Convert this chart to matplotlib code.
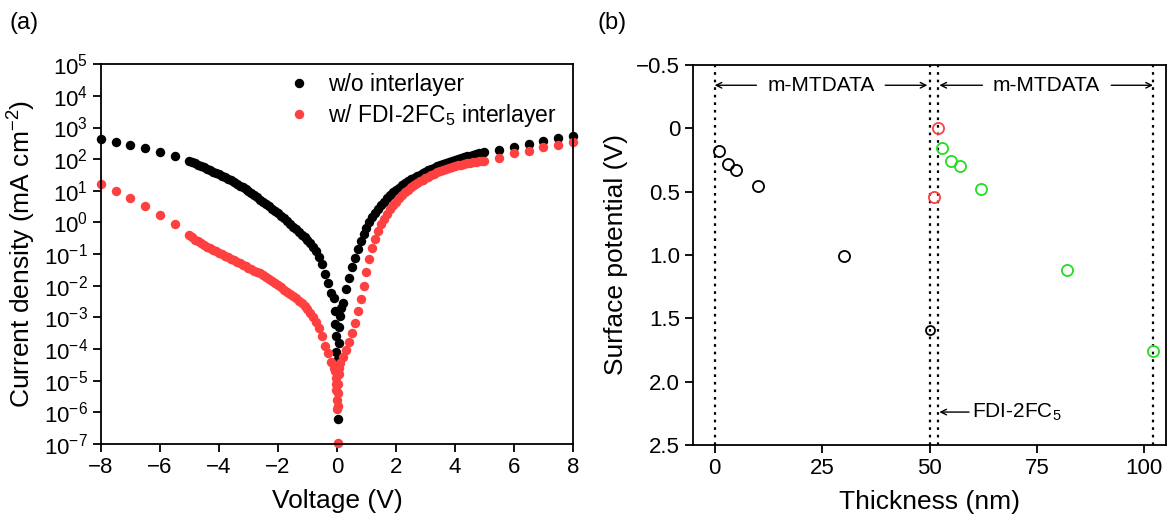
import numpy as np
import matplotlib
matplotlib.use('Agg')
import matplotlib.pyplot as plt

plt.rcParams['font.family'] = ['Liberation Sans', 'DejaVu Sans']
plt.rcParams['mathtext.fontset'] = 'custom'
plt.rcParams['mathtext.rm'] = 'Liberation Sans'
plt.rcParams['mathtext.it'] = 'Liberation Sans:italic'
plt.rcParams['axes.linewidth'] = 1.3

# ---- (a) J-V data, log10(J / mA cm^-2) ----
v_sparse_neg = [-8.0, -7.5, -7.0, -6.5, -6.0, -5.5]
v_sparse_pos = [5.5, 6.0, 6.5, 7.0, 7.5, 8.0]
v_dense_neg = np.linspace(-5.0, -0.1, 50)

black_sparse_neg = [2.63, 2.55, 2.44, 2.34, 2.23, 2.09]
black_dense_neg = [1.95, 1.91, 1.87, 1.83, 1.79, 1.74, 1.70, 1.65, 1.60, 1.56,
                   1.52, 1.47, 1.43, 1.38, 1.33, 1.27, 1.22, 1.16, 1.11, 1.05,
                   0.99, 0.93, 0.86, 0.79, 0.72, 0.65, 0.58, 0.51, 0.44, 0.37,
                   0.29, 0.21, 0.13, 0.05, -0.04, -0.13, -0.22, -0.30, -0.39, -0.47,
                   -0.55, -0.64, -0.76, -0.90, -1.08, -1.32, -1.64, -1.90, -2.22, -2.40]
black_v_zero = [-0.08, -0.06, -0.04, -0.02, 0.0, 0.02, 0.04, 0.06, 0.08, 0.1, 0.15]
black_zero = [-2.8, -3.2, -3.6, -4.1, -4.6, -6.2, -4.3, -3.8, -3.3, -2.95, -2.7]
black_v_pos = np.linspace(0.2, 5.0, 49)
black_dense_pos = [-2.55, -2.10, -1.75, -1.42, -1.12, -0.85, -0.60, -0.38, -0.18,
                   0.00, 0.16, 0.30, 0.43, 0.55, 0.66, 0.76, 0.86, 0.95, 1.03,
                   1.10, 1.17, 1.24, 1.30, 1.36, 1.41, 1.46, 1.51, 1.56, 1.61,
                   1.65, 1.69, 1.73, 1.77, 1.81, 1.85, 1.88, 1.91, 1.94, 1.97,
                   2.00, 2.03, 2.06, 2.09, 2.11, 2.14, 2.16, 2.18, 2.20, 2.22]
black_sparse_pos = [2.29, 2.37, 2.49, 2.58, 2.66, 2.73]

red_sparse_neg = [1.23, 1.00, 0.77, 0.52, 0.23, -0.05]
red_dense_neg = [-0.40, -0.47, -0.54, -0.60, -0.66, -0.71, -0.76, -0.81, -0.86, -0.91,
                 -0.95, -1.00, -1.05, -1.10, -1.15, -1.20, -1.25, -1.29, -1.34, -1.38,
                 -1.43, -1.47, -1.52, -1.57, -1.61, -1.66, -1.72, -1.78, -1.84, -1.91,
                 -1.98, -2.05, -2.12, -2.19, -2.26, -2.33, -2.40, -2.48, -2.56, -2.65,
                 -2.75, -2.86, -2.98, -3.13, -3.33, -3.60, -3.90, -4.12, -4.40, -4.60]
red_v_zero = [-0.06, -0.04, -0.03, -0.02, -0.01, 0.0, 0.02, 0.03, 0.04, 0.05, 0.06, 0.08]
red_zero = [-4.7, -4.9, -5.1, -5.3, -5.6, -5.9, -6.97, -5.8, -5.4, -5.1, -4.8, -4.6]
red_v_pos = np.linspace(0.1, 5.0, 50)
red_dense_pos = [-4.45, -4.25, -4.02, -3.77, -3.50, -3.17, -2.79, -2.42, -2.02, -1.55,
                 -1.15, -0.80, -0.52, -0.28, -0.06, 0.12, 0.27, 0.41, 0.54, 0.66,
                 0.77, 0.87, 0.96, 1.04, 1.11, 1.18, 1.24, 1.30, 1.35, 1.40,
                 1.45, 1.50, 1.54, 1.58, 1.62, 1.66, 1.69, 1.72, 1.75, 1.78,
                 1.81, 1.83, 1.85, 1.87, 1.89, 1.91, 1.92, 1.93, 1.94, 1.95]
red_sparse_pos = [2.05, 2.18, 2.26, 2.37, 2.45, 2.55]

# ---- (b) surface potential data ----
mtdata1_t = [1, 3, 5, 10, 30, 50]
mtdata1_v = [0.18, 0.28, 0.33, 0.455, 1.01, 1.59]
fdi_t = [51, 52]
fdi_v = [0.54, 0.0]
mtdata2_t = [53, 55, 57, 62, 82, 102]
mtdata2_v = [0.157, 0.258, 0.30, 0.476, 1.12, 1.755]
layer_edges = [0, 50, 52, 102]

RED = '#ff4040'
GREEN = '#22dd22'

fig = plt.figure(figsize=(11.67, 5.22), dpi=100)
ax1 = fig.add_axes([0.0865, 0.1494, 0.4045, 0.7276])
ax2 = fig.add_axes([0.594, 0.1475, 0.405, 0.728])

bv = np.concatenate([v_sparse_neg, v_dense_neg, black_v_zero, black_v_pos, v_sparse_pos])
bj = 10 ** np.concatenate([black_sparse_neg, black_dense_neg, black_zero, black_dense_pos, black_sparse_pos])
rv = np.concatenate([v_sparse_neg, v_dense_neg, red_v_zero, red_v_pos, v_sparse_pos])
rj = 10 ** np.concatenate([red_sparse_neg, red_dense_neg, red_zero, red_dense_pos, red_sparse_pos])

ax1.plot(bv, bj, 'o', color='black', ms=6.8, mew=0, label='w/o interlayer', clip_on=False)
ax1.plot(rv, rj, 'o', color=RED, ms=6.8, mew=0, label='w/ FDI-2FC$_5$ interlayer', clip_on=False)
ax1.set_yscale('log')
ax1.set_xlim(-8, 8)
ax1.set_ylim(1e-7, 1e5)
ax1.set_xticks([-8, -6, -4, -2, 0, 2, 4, 6, 8])
ax1.set_yticks([10.0 ** k for k in range(-7, 6)])
ax1.yaxis.set_minor_locator(matplotlib.ticker.NullLocator())
ax1.set_xlabel('Voltage (V)', fontsize=19, labelpad=8)
ax1.set_ylabel('Current density (mA cm$^{-2}$)', fontsize=19, labelpad=4)
ax1.tick_params(direction='out', length=6, width=1.3, labelsize=16)
ax1.legend(loc='upper left', bbox_to_anchor=(0.37, 1.0), frameon=False, fontsize=16.5,
           handletextpad=0.7, handlelength=1.2, labelspacing=0.25, borderaxespad=0)
fig.text(0.008, 0.955, '(a)', fontsize=17, va='center')

for t in layer_edges:
    ax2.axvline(t, color='black', ls=(0, (1.2, 2.2)), lw=1.6)
ax2.plot(mtdata1_t[:-1], mtdata1_v[:-1], 'o', mfc='none', mec='black', ms=8, mew=1.3)
ax2.plot(mtdata1_t[-1:], mtdata1_v[-1:], 'o', mfc='none', mec='black', ms=6.5, mew=1.3)
ax2.plot(fdi_t, fdi_v, 'o', mfc='none', mec=RED, ms=8, mew=1.3)
ax2.plot(mtdata2_t, mtdata2_v, 'o', mfc='none', mec=GREEN, ms=8, mew=1.3, clip_on=False)
ax2.set_xlim(-5, 105)
ax2.set_ylim(2.5, -0.5)
ax2.set_xticks([0, 25, 50, 75, 100])
ax2.set_yticks([-0.5, 0, 0.5, 1.0, 1.5, 2.0, 2.5])
ax2.set_yticklabels(['\u22120.5', '0', '0.5', '1.0', '1.5', '2.0', '2.5'])
ax2.set_xlabel('Thickness (nm)', fontsize=19, labelpad=8)
ax2.set_ylabel('Surface potential (V)', fontsize=19, labelpad=6)
ax2.tick_params(direction='out', length=6, width=1.3, labelsize=16)

arrow = dict(arrowstyle='->', lw=1.0, color='black', shrinkA=0, shrinkB=0)
ya = -0.34
ax2.annotate('', xy=(0, ya), xytext=(9.7, ya), arrowprops=arrow)
ax2.annotate('', xy=(49.5, ya), xytext=(39.7, ya), arrowprops=arrow)
ax2.text(24.9, ya, 'm-MTDATA', fontsize=15, ha='center', va='center')
ax2.annotate('', xy=(52.3, ya), xytext=(62.3, ya), arrowprops=arrow)
ax2.annotate('', xy=(102, ya), xytext=(92.3, ya), arrowprops=arrow)
ax2.text(77.2, ya, 'm-MTDATA', fontsize=15, ha='center', va='center')
ax2.annotate('', xy=(52.3, 2.24), xytext=(59.2, 2.24), arrowprops=arrow)
ax2.text(60.0, 2.24, 'FDI-2FC$_5$', fontsize=15, ha='left', va='center')
fig.text(0.512, 0.955, '(b)', fontsize=17, va='center')

fig.savefig('out.png', dpi=100)
